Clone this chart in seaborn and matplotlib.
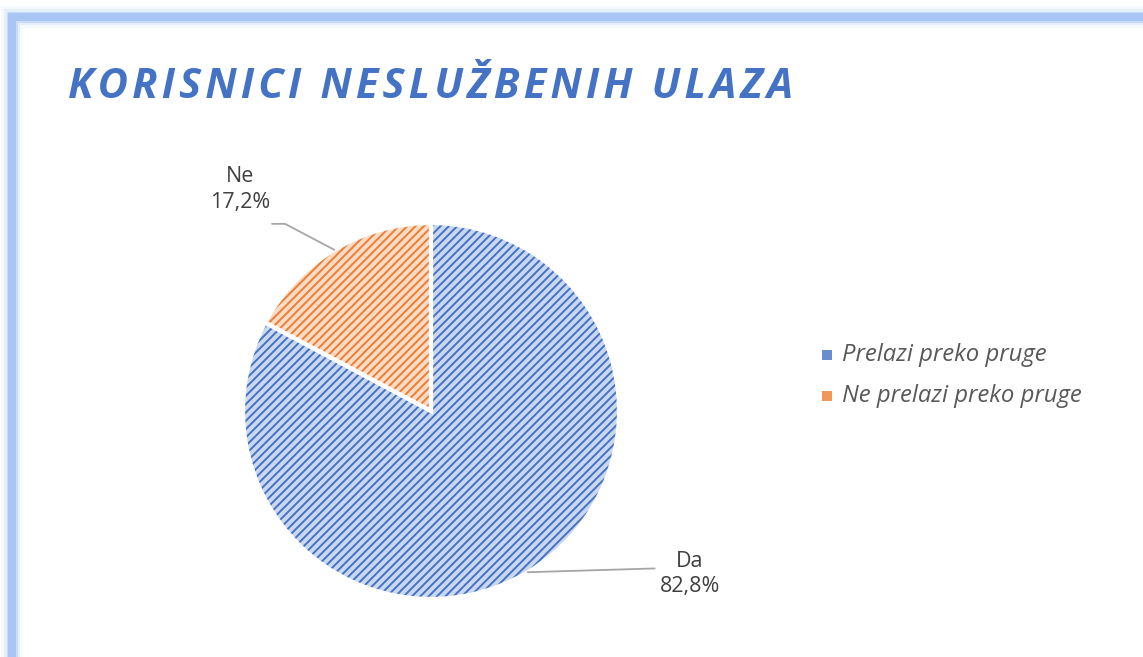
import numpy as np
import seaborn as sns
import matplotlib.pyplot as plt
from matplotlib.patches import Rectangle

# data
labels = ['Da', 'Ne']
shares = [82.8, 17.2]
legend_labels = ['Prelazi preko pruge', 'Ne prelazi preko pruge']
title = 'KORISNICI NESLUŽBENIH ULAZA'

face_colors = ['#cad7f0', '#fcdcc6']
hatch_colors = ['#4472c4', '#ed7d31']

sns.set_theme(style='white')
plt.rcParams['font.family'] = ['Open Sans', 'DejaVu Sans']
plt.rcParams['hatch.linewidth'] = 1.4

W, H = 1143, 657
fig = plt.figure(figsize=(W / 100, H / 100), dpi=100)
fig.patch.set_facecolor('white')

# frame with soft glow (left and top edges)
for lw, a in [(22, 0.10), (16, 0.2), (11, 0.45), (8, 1.0)]:
    fig.patches.append(Rectangle((12 / W, -0.2), 1.3, 1.2 - 17 / H,
                                 transform=fig.transFigure, fill=False,
                                 edgecolor='#a9c5f5', lw=lw * 0.72, alpha=a,
                                 zorder=0))

# pie axes: centre (431, 411) px, radius 188 px
cx, cy, r = 431, 411, 188
ax = fig.add_axes([(cx - r) / W, (H - cy - r) / H, 2 * r / W, 2 * r / H])

wedges, _ = ax.pie(shares, colors=face_colors, startangle=90, counterclock=False,
                   radius=1, wedgeprops=dict(linewidth=0))
hatched, _ = ax.pie(shares, colors=['none', 'none'], startangle=90, counterclock=False,
                    radius=1, wedgeprops=dict(linewidth=0))
for w, hc in zip(hatched, hatch_colors):
    w.set_edgecolor(hc)
    w.set_hatch('////')
    w.set_linewidth(0)
ax.pie(shares, colors=['none', 'none'], startangle=90, counterclock=False,
       radius=1, wedgeprops=dict(linewidth=3, edgecolor='white'))
ax.set_xlim(-1, 1)
ax.set_ylim(-1, 1)
ax.axis('off')

# data labels with leader lines
label_col = '#404040'
for w, lab, val in zip(wedges, labels, shares):
    mid = np.deg2rad((w.theta1 + w.theta2) / 2)
    x0, y0 = np.cos(mid), np.sin(mid)
    txt = f'{lab}\n{val:.1f}%'.replace('.', ',')
    if x0 > 0:
        pts_x = [x0, 1.19]
        pts_y = [y0, y0 + 0.02]
        tx, ty = 1.378, y0 - 0.01
    else:
        pts_x = [x0, x0 - 0.262, x0 - 0.331]
        pts_y = [y0, y0 + 0.138, y0 + 0.138]
        tx, ty = -1.016, y0 + 0.32
    ax.plot(pts_x, pts_y, color='#a6a6a6', lw=1.3, clip_on=False)
    ax.text(tx, ty, txt, ha='center', va='center', fontsize=15.5,
            color=label_col, linespacing=1.3, clip_on=False)

# title with wide letter spacing
spaced = '\u200a'.join(title)
fig.text(68 / W, 1 - 87 / H, spaced, fontsize=30, fontweight='bold',
         fontstyle='italic', color='#4472c4', ha='left', va='center')

# legend
for i, (lab, fc, hc) in enumerate(zip(legend_labels, face_colors, hatch_colors)):
    y = 1 - (355 + 41 * i) / H
    fig.patches.append(Rectangle((822 / W, y - 5 / H), 10 / W, 10 / H,
                                 transform=fig.transFigure, facecolor=hc,
                                 edgecolor='none', alpha=0.8))
    fig.text(842 / W, y, lab, fontsize=17.2, fontstyle='italic', color='#595959',
             ha='left', va='center')

fig.savefig('out.png', dpi=100)
